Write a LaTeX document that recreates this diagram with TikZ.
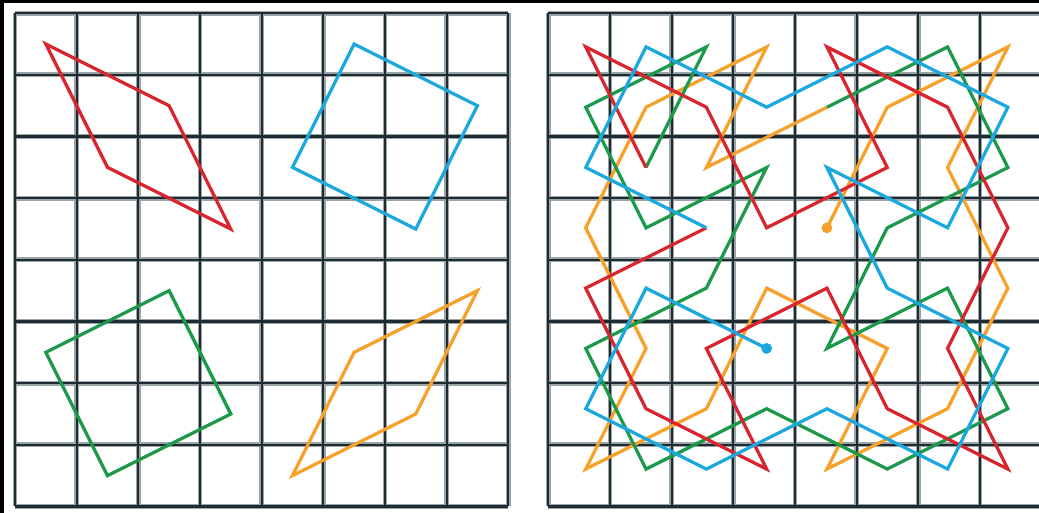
\documentclass[tikz,border=0pt]{standalone}
\usepackage{xcolor}
\definecolor{gridcore}{HTML}{1E2B31}
\definecolor{gridhalo}{HTML}{9AA3A6}
\definecolor{figred}{HTML}{D8252E}
\definecolor{figblue}{HTML}{1BA8DF}
\definecolor{figgreen}{HTML}{1C9A4B}
\definecolor{figorange}{HTML}{F7A12B}
\tikzset{
  halo/.style={line width=2.2pt, draw=gridhalo},
  core/.style={line width=1.0pt, draw=gridcore},
  fig/.style={line width=1.5pt, line join=miter},
  endpt/.style={radius=0.09},
}

\begin{document}
\begin{tikzpicture}[x=1cm, y=1cm]
  \useasboundingbox (-0.243,-0.105) rectangle (16.607,8.214);
  \clip (-0.243,-0.105) rectangle (16.607,8.214);
  \fill[black] (-0.243,-0.105) rectangle (16.607,8.214);
  \fill[white] (-0.178,-0.105) rectangle (16.607,8.165);
  % two 8x8 grids
  \foreach \ox in {0,8.649}{
    \begin{scope}[xshift=\ox cm]
      \foreach \i in {0,...,8}{
        \draw[halo] (\i,0) -- (\i,8);
        \draw[halo] (0,\i) -- (8,\i);
      }
      \foreach \i in {0,...,8}{
        \draw[core] (\i,0) -- (\i,8);
        \draw[core] (0,\i) -- (8,\i);
      }
    \end{scope}
  }
  % left: the four figures
  \draw[fig, figred] (0.5,7.5) -- (2.5,6.5) -- (3.5,4.5) -- (1.5,5.5) -- cycle;
  \draw[fig, figblue] (5.5,7.5) -- (7.5,6.5) -- (6.5,4.5) -- (4.5,5.5) -- cycle;
  \draw[fig, figgreen] (2.5,3.5) -- (3.5,1.5) -- (1.5,0.5) -- (0.5,2.5) -- cycle;
  \draw[fig, figorange] (7.5,3.5) -- (6.5,1.5) -- (4.5,0.5) -- (5.5,2.5) -- cycle;
  % right: one path, four colours (drawn a little smaller than the grid)
  \begin{scope}[xshift=8.649cm, shift={(4.03,4.03)}, scale=0.978, shift={(-4,-4)}]
    \draw[fig, figorange] (4.5,4.5) -- (5.5,6.5) -- (7.5,7.5) -- (6.5,5.5) -- (7.5,3.5)
      -- (6.5,1.5) -- (4.5,0.5) -- (5.5,2.5) -- (3.5,3.5) -- (2.5,1.5) -- (0.5,0.5)
      -- (1.5,2.5) -- (0.5,4.5) -- (1.5,6.5) -- (3.5,7.5) -- (2.5,5.5) -- (4.5,6.5);
    \draw[fig, figgreen] (4.5,6.5) -- (6.5,7.5) -- (7.5,5.5) -- (5.5,4.5) -- (4.5,2.5)
      -- (6.5,3.5) -- (7.5,1.5) -- (5.5,0.5) -- (3.5,1.5) -- (1.5,0.5) -- (0.5,2.5)
      -- (2.5,3.5) -- (3.5,5.5) -- (1.5,4.5) -- (0.5,6.5) -- (2.5,7.5) -- (1.5,5.5);
    \draw[fig, figred] (1.5,5.5) -- (0.5,7.5) -- (2.5,6.5) -- (3.5,4.5) -- (5.5,5.5)
      -- (4.5,7.5) -- (6.5,6.5) -- (7.5,4.5) -- (6.5,2.5) -- (7.5,0.5) -- (5.5,1.5)
      -- (4.5,3.5) -- (2.5,2.5) -- (3.5,0.5) -- (1.5,1.5) -- (0.5,3.5) -- (2.5,4.5);
    \draw[fig, figblue] (2.5,4.5) -- (0.5,5.5) -- (1.5,7.5) -- (3.5,6.5) -- (5.5,7.5)
      -- (7.5,6.5) -- (6.5,4.5) -- (4.5,5.5) -- (5.5,3.5) -- (7.5,2.5) -- (6.5,0.5)
      -- (4.5,1.5) -- (2.5,0.5) -- (0.5,1.5) -- (1.5,3.5) -- (3.5,2.5);
    \fill[figorange] (4.5,4.5) circle[endpt];
    \fill[figblue] (3.5,2.5) circle[endpt];
  \end{scope}
\end{tikzpicture}
\end{document}
